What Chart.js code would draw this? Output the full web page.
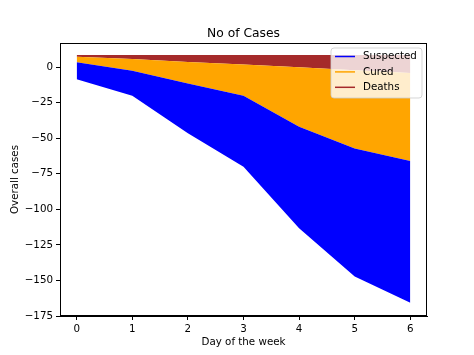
<!DOCTYPE html>
<html>
<head>
<meta charset="utf-8">
<script src="https://cdn.jsdelivr.net/npm/chart.js@4/dist/chart.umd.min.js"></script>
<style>
  html, body { margin: 0; padding: 0; background: #ffffff; }
  canvas { display: block; }
</style>
</head>
<body>
<canvas id="c" width="474" height="355"></canvas>
<script>
// ---- Data ----
const days = [0, 1, 2, 3, 4, 5, 6];
const baseline = [-8.5, -20.2, -46.5, -70.0, -113.4, -147.3, -165.6];
const suspected = [11.8, 17.6, 34.9, 49.9, 71.5, 90.1, 99.5];
const cured = [3.9, 8.2, 15.2, 21.8, 41.7, 55.0, 61.9];
const deaths = [1.2, 2.8, 4.8, 6.7, 8.6, 10.6, 12.6];
const xTicks = [0, 1, 2, 3, 4, 5, 6];
const yTicks = [0, -25, -50, -75, -100, -125, -150, -175];
const seriesNames = ['Suspected', 'Cured', 'Deaths'];
const seriesColors = ['blue', 'orange', 'brown'];
const titleText = 'No of Cases';
const xLabel = 'Day of the week';
const yLabel = 'Overall cases';

// ---- build stacked boundaries ----
const layers = [suspected, cured, deaths];
const bounds = [baseline.slice()];
layers.forEach(function (s, k) {
  bounds.push(bounds[k].map(function (v, i) { return v + s[i]; }));
});

const FONT = 'DejaVu Sans';
const datasets = bounds.map(function (b, k) {
  return {
    label: k === 0 ? 'base' : seriesNames[k - 1],
    data: days.map(function (d, i) { return { x: d, y: b[i] }; }),
    borderWidth: 0,
    borderColor: 'transparent',
    backgroundColor: k === 0 ? 'transparent' : seriesColors[k - 1],
    pointRadius: 0,
    tension: 0,
    fill: k === 0 ? false : '-1'
  };
});

const decor = {
  id: 'decor',
  afterDraw: function (chart) {
    const ctx = chart.ctx;
    const a = chart.chartArea;
    ctx.save();
    // frame
    ctx.strokeStyle = '#000';
    ctx.lineWidth = 1;
    ctx.strokeRect(Math.round(a.left) + 0.5, Math.round(a.top) + 0.5,
      Math.round(a.right - a.left) - 1, Math.round(a.bottom - a.top) - 1);
    // title
    ctx.fillStyle = '#000';
    ctx.font = '12.3px "' + FONT + '"';
    ctx.textAlign = 'center';
    ctx.textBaseline = 'alphabetic';
    ctx.fillText(titleText, (a.left + a.right) / 2, a.top - 6.5);
    // axis titles
    ctx.font = '10.3px "' + FONT + '"';
    ctx.fillText(xLabel, (a.left + a.right) / 2, 344.5);
    ctx.save();
    ctx.translate(17.5, (a.top + a.bottom) / 2);
    ctx.rotate(-Math.PI / 2);
    ctx.fillText(yLabel, 0, 0);
    ctx.restore();
    // legend
    const lw = 91, lh = 50;
    const lx = a.right - 5 - lw, ly = a.top + 5;
    const r = 3;
    ctx.beginPath();
    ctx.moveTo(lx + r, ly);
    ctx.lineTo(lx + lw - r, ly);
    ctx.quadraticCurveTo(lx + lw, ly, lx + lw, ly + r);
    ctx.lineTo(lx + lw, ly + lh - r);
    ctx.quadraticCurveTo(lx + lw, ly + lh, lx + lw - r, ly + lh);
    ctx.lineTo(lx + r, ly + lh);
    ctx.quadraticCurveTo(lx, ly + lh, lx, ly + lh - r);
    ctx.lineTo(lx, ly + r);
    ctx.quadraticCurveTo(lx, ly, lx + r, ly);
    ctx.closePath();
    ctx.fillStyle = 'rgba(255,255,255,0.8)';
    ctx.fill();
    ctx.strokeStyle = 'rgba(204,204,204,0.8)';
    ctx.lineWidth = 1;
    ctx.stroke();
    ctx.textAlign = 'left';
    ctx.textBaseline = 'middle';
    seriesNames.forEach(function (n, i) {
      const yy = ly + 8.5 + i * 15.4;
      ctx.strokeStyle = seriesColors[i];
      ctx.lineWidth = 1.5;
      ctx.beginPath();
      ctx.moveTo(lx + 4, yy);
      ctx.lineTo(lx + 24, yy);
      ctx.stroke();
      ctx.fillStyle = '#000';
      ctx.fillText(n, lx + 32, yy);
    });
    ctx.restore();
  }
};

new Chart(document.getElementById('c'), {
  type: 'line',
  data: { datasets: datasets },
  options: {
    responsive: false,
    animation: false,
    devicePixelRatio: 1,
    layout: { padding: { left: 0, top: 43, right: 47, bottom: 0 } },
    plugins: { legend: { display: false }, tooltip: { enabled: false }, title: { display: false } },
    elements: { line: { borderWidth: 0 } },
    scales: {
      x: {
        type: 'linear',
        min: -0.3,
        max: 6.3,
        afterBuildTicks: function (s) { s.ticks = xTicks.map(function (v) { return { value: v }; }); },
        afterFit: function (s) { s.height = 39; },
        grid: { drawOnChartArea: false, drawTicks: true, tickLength: 4, tickColor: '#000' },
        border: { display: true, color: '#000', width: 1 },
        ticks: { color: '#000', font: { family: FONT, size: 10.3 }, padding: 3, maxRotation: 0, autoSkip: false }
      },
      y: {
        type: 'linear',
        min: -175,
        max: 16.9,
        afterBuildTicks: function (s) { s.ticks = yTicks.map(function (v) { return { value: v }; }); },
        afterFit: function (s) { s.width = 60; },
        grid: { drawOnChartArea: false, drawTicks: true, tickLength: 4, tickColor: '#000' },
        border: { display: true, color: '#000', width: 1 },
        ticks: {
          color: '#000', font: { family: FONT, size: 10.3 }, padding: 3, autoSkip: false,
          callback: function (v) { return v < 0 ? '\u2212' + Math.abs(v) : String(v); }
        }
      }
    }
  },
  plugins: [decor]
});
</script>
</body>
</html>
